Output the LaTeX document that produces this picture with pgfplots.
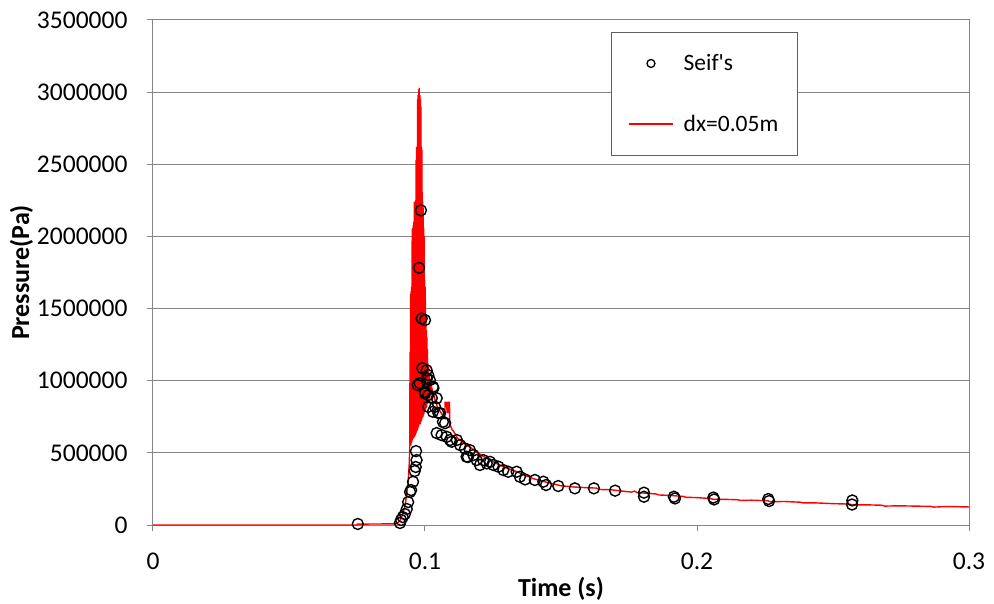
\documentclass[border=0pt]{standalone}
\usepackage{fontspec}
\setmainfont{Carlito}
\usepackage{pgfplots}
\pgfplotsset{compat=1.18}
\definecolor{excelgray}{HTML}{868686}
\definecolor{legborder}{HTML}{606060}
\begin{document}
\begin{tikzpicture}
\begin{axis}[
  at={(0,0)}, anchor=south west,
  scale only axis, width=816pt, height=505pt,
  xmin=0, xmax=0.3, ymin=0, ymax=3500000,
  xtick={0,0.1,0.2,0.3}, xticklabels={0,0.1,0.2,0.3},
  ytick={0,500000,1000000,1500000,2000000,2500000,3000000,3500000},
  yticklabels={0,500000,1000000,1500000,2000000,2500000,3000000,3500000},
  scaled y ticks=false, scaled x ticks=false,
  ymajorgrids, grid style={excelgray, line width=1pt},
  axis line style={excelgray, line width=1pt},
  tick style={excelgray, line width=1pt},
  tick align=outside, major tick length=6pt,
  xtick pos=bottom, ytick pos=left,
  tick label style={font=\fontsize{25.5}{30}\selectfont},
  xticklabel style={yshift=-18pt},
  yticklabel style={xshift=-16pt},
  label style={font=\bfseries\fontsize{26}{30}\selectfont},
  xlabel={Time (s)}, ylabel={Pressure(Pa)},
  xlabel style={yshift=-1pt},
  ylabel style={yshift=-3pt},
  legend style={at={(0.561,0.976)}, anchor=north west, draw=legborder, line width=1pt, fill=white,
    font=\fontsize{23.5}{28}\selectfont, inner xsep=17pt, inner ysep=20pt, row sep=39pt,
    column sep=8pt, nodes={inner ysep=2pt, inner xsep=2pt}},
  legend cell align=left,
  legend image code/.code={\draw[mark repeat=2,mark phase=2,#1] plot coordinates {(0pt,0pt)(22pt,0pt)(44pt,0pt)};},
]
\addplot[only marks, mark=o, mark size=5.5pt, draw=black, mark options={draw=black, line width=1.4pt},
  legend image post style={mark size=4pt, mark options={draw=black, line width=1.3pt}}] table {
0.0753 7000
0.0908 14000
0.0912 35000
0.0918 55000
0.0926 76000
0.0933 111000
0.0938 159000
0.0945 229000
0.0949 242000
0.0956 300000
0.0962 374000
0.0966 402000
0.0969 450000
0.0967 512000
0.0978 1782000
0.0985 2181000
0.0988 1431000
0.1000 1420000
0.0990 1087000
0.1006 1073000
0.1012 1039000
0.0973 970000
0.0980 983000
0.1006 1018000
0.1018 1004000
0.1000 923000
0.1000 912000
0.1012 900000
0.1031 949000
0.1029 958000
0.1025 879000
0.1043 879000
0.1012 819000
0.1037 819000
0.1029 785000
0.1049 776000
0.1055 776000
0.1066 715000
0.1074 706000
0.1043 637000
0.1061 623000
0.1080 611000
0.1092 589000
0.1098 577000
0.1117 589000
0.1129 554000
0.1147 531000
0.1153 473000
0.1158 471000
0.1165 519000
0.1178 485000
0.1190 450000
0.1202 416000
0.1214 450000
0.1227 427000
0.1239 438000
0.1251 416000
0.1270 404000
0.1288 381000
0.1306 369000
0.1337 369000
0.1349 334000
0.1368 316000
0.1404 312000
0.1435 300000
0.1445 277000
0.1490 270000
0.1551 254000
0.1621 254000
0.1699 238000
0.1805 224000
0.1805 196000
0.1915 196000
0.1919 184000
0.2060 190000
0.2063 177000
0.2262 180000
0.2265 166000
0.2571 170000
0.2570 142000
};
\addlegendentry{Seif\textquotesingle s}
\addplot[draw=red, color=red, line width=1.4pt, mark=none,
  legend image post style={draw=red, line width=1.4pt}] table {
0 0
0.0750 0
0.0751 6000
0.0890 8000
0.0900 15000
0.0908 30000
0.0915 60000
0.0925 120000
0.0932 200000
0.0938 300000
0.0942 420000
0.0944 540000
0.0945 1200000
0.0946 560000
0.0947 1600000
0.0948 550000
0.0949 1620000
0.0950 570000
0.0951 1650000
0.0952 580000
0.0953 2050000
0.0954 590000
0.0955 2060000
0.0956 600000
0.0957 2080000
0.0958 600000
0.0959 2100000
0.0960 610000
0.0961 2240000
0.0962 620000
0.0963 2240000
0.0964 620000
0.0965 2250000
0.0966 630000
0.0967 2530000
0.0968 640000
0.0969 2620000
0.0970 650000
0.0971 2620000
0.0972 660000
0.0973 2950000
0.0974 670000
0.0975 2980000
0.0976 680000
0.0977 3020000
0.0978 690000
0.0979 3030000
0.0980 700000
0.0981 2980000
0.0982 700000
0.0983 2950000
0.0984 710000
0.0985 2900000
0.0986 720000
0.0987 2620000
0.0988 730000
0.0989 2600000
0.0990 740000
0.0991 2240000
0.0992 750000
0.0993 2200000
0.0994 760000
0.0995 2060000
0.0996 770000
0.0997 2000000
0.0998 780000
0.0999 1700000
0.1000 790000
0.1001 1650000
0.1002 800000
0.1003 1450000
0.1004 810000
0.1005 1350000
0.1006 820000
0.1007 1300000
0.1008 840000
0.1009 1220000
0.1010 850000
0.1011 1120000
0.1012 860000
0.1013 1100000
0.1014 870000
0.1015 1050000
0.1016 880000
0.1017 1020000
0.1018 890000
0.1019 1000000
0.1020 900000
0.1021 980000
0.1022 900000
0.1023 960000
0.1024 900000
0.1025 950000
0.1035 880000
0.1045 820000
0.1055 790000
0.1065 760000
0.1073 740000
0.1074 850000
0.1080 850000
0.1081 780000
0.1084 780000
0.1085 850000
0.1090 850000
0.1091 700000
0.1100 660000
0.1105 650000
0.1120 600000
0.1150 560000
0.1180 520000
0.1210 480000
0.1240 450000
0.1270 420000
0.1300 395000
0.1330 375000
0.1360 350000
0.1400 320000
0.1450 295000
0.1500 272000
0.1550 263000
0.1600 258000
0.1630 256000
0.1640 246000
0.1680 245000
0.1720 236000
0.1760 228000
0.1770 235000
0.1780 224000
0.1800 222000
0.1850 215000
0.1860 208000
0.1900 205000
0.1950 198000
0.1960 192000
0.2000 190000
0.2050 183000
0.2060 178000
0.2100 178000
0.2150 175000
0.2160 170000
0.2200 172000
0.2260 168000
0.2270 161000
0.2320 163000
0.2380 158000
0.2390 153000
0.2440 153000
0.2500 148000
0.2560 145000
0.2570 139000
0.2620 140000
0.2680 137000
0.2690 131000
0.2740 133000
0.2800 131000
0.2860 129000
0.2870 124000
0.2920 128000
0.3000 125000
};
\addlegendentry{dx=0.05m}
\end{axis}
\pgfresetboundingbox
\path[use as bounding box] (-153pt,-78pt) rectangle (841pt,525pt);
\end{tikzpicture}
\end{document}
